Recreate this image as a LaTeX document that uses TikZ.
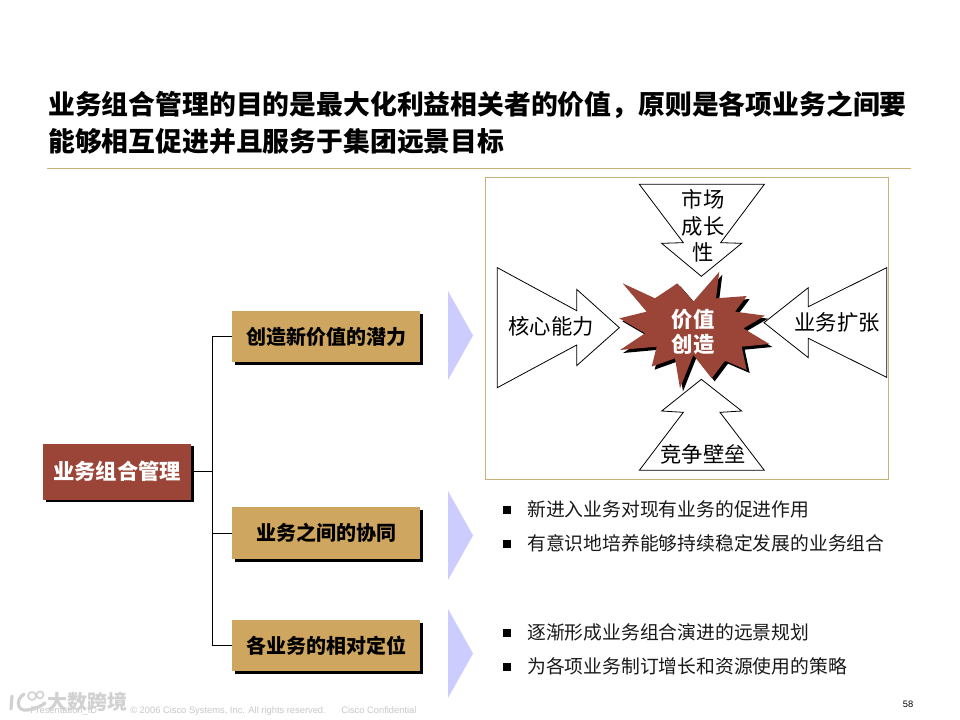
\documentclass[tikz,border=0pt]{standalone}
\usepackage{fontspec}
\usetikzlibrary{shadows}
\setmainfont{Noto Sans CJK SC}
\newfontfamily\latinf{Liberation Sans}
\definecolor{brownc}{HTML}{9B4538}
\definecolor{goldc}{HTML}{CFA65F}
\definecolor{lavc}{HTML}{CCCCFF}
\definecolor{rulec}{HTML}{C9B27A}
\definecolor{footc}{HTML}{C8C8C8}
\tikzset{
  hardshadow/.style={general shadow={shadow xshift=2.2pt,shadow yshift=-2.2pt,fill=black}},
  rootbox/.style={fill=brownc,text=white,font=\fontsize{16}{18}\selectfont\bfseries,minimum width=111pt,minimum height=42pt,inner sep=0pt,hardshadow},
  goldbox/.style={fill=goldc,text=black,font=\fontsize{15}{18}\selectfont\bfseries,minimum width=141pt,minimum height=38.5pt,inner sep=0pt,hardshadow},
  chev/.style={fill=lavc,draw=none},
  link/.style={draw=black,line width=0.75pt},
  blockarrow/.style={draw=black,line width=0.6pt,fill=white,line join=miter},
  arrowlabel/.style={font=\fontsize{16}{18}\selectfont,text=black,inner sep=0pt},
  itemtext/.style={anchor=west,font=\fontsize{14.1}{17}\selectfont,text=black!90,inner sep=0pt},
  itemmark/.style={fill=black,minimum size=5.5pt,inner sep=0pt},
  titletext/.style={anchor=west,font=\fontsize{20.12}{24}\selectfont\bfseries,text=black,inner sep=0pt},
  foot/.style={anchor=base west,font=\latinf\fontsize{7}{8}\selectfont,text=footc,inner sep=0pt},
}
\begin{document}
\begin{tikzpicture}[x=0.75pt,y=-0.75pt]
\useasboundingbox (0,0) rectangle (960,720);
\fill[white] (0,0) rectangle (960,720);

% title
\node[titletext] (t1) at (48,105) {业务组合管理的目的是最大化利益相关者的价值，原则是各项业务之间要};
\node[titletext] (t2) at (48,141) {能够相互促进并且服务于集团远景目标};
\draw[rulec,line width=0.75pt] (47,168.5) -- (911,168.5);

% frame
\draw[rulec,line width=0.7pt] (485.5,177) rectangle (888,479);

% boxes
\node[rootbox] (root) at (117,471.5) {业务组合管理};
\node[goldbox] (box1) at (326,336.5) {创造新价值的潜力};
\node[goldbox] (box2) at (326,533) {业务之间的协同};
\node[goldbox] (box3) at (326,645.5) {各业务的相对定位};

% connectors
\coordinate (spine) at (212,471.5);
\draw[link] (root.east) -- (spine);
\draw[link] (box1.west) -| (spine);
\draw[link] (box2.west) -| (spine);
\draw[link] (box3.west) -| (spine);

% chevrons
\fill[chev] (448,291) -- (473,335.5) -- (448,380) -- cycle;
\fill[chev] (448,491) -- (473,535.5) -- (448,580) -- cycle;
\fill[chev] (448,609) -- (473,653.5) -- (448,698) -- cycle;

% block arrows (zoom coords -> page)
\begin{scope}[shift={(480,170)},x=0.25pt,y=-0.25pt]
\draw[blockarrow] (478,43) -- (853,43) -- (722,218) -- (785,220) -- (664,319) -- (545,220) -- (610,218) -- cycle;
\draw[blockarrow] (52,293) -- (290,422) -- (290,358) -- (418,473) -- (290,587) -- (290,525) -- (52,653) -- cycle;
\draw[blockarrow] (1220,293) -- (985,410) -- (985,353) -- (852,458) -- (985,563) -- (985,505) -- (1220,622) -- cycle;
\draw[blockarrow] (478,901) -- (853,901) -- (720,727) -- (785,723) -- (664,628) -- (545,723) -- (610,727) -- cycle;
\def\starpath{(428,340) -- (525,385) -- (592,340) -- (640,395) -- (718,305) -- (708,385) -- (800,378) -- (765,425) -- (855,437) -- (790,475) -- (868,522) -- (785,530) -- (800,600) -- (735,572) -- (695,625) -- (640,555) -- (600,655) -- (585,565) -- (515,590) -- (530,530) -- (420,540) -- (495,490) -- (418,445) -- (500,425) -- cycle}
\fill[black,shift={(9,9)}] \starpath;
\fill[brownc] \starpath;
\end{scope}

% arrow labels
\node[arrowlabel] (a1) at (703,199) {市场};
\node[arrowlabel] (a2) at (703,226) {成长};
\node[arrowlabel] (a3) at (703,252) {性};
\node[arrowlabel] (a4) at (551,326) {核心能力};
\node[arrowlabel] (a5) at (837,322) {业务扩张};
\node[arrowlabel] (a6) at (703,454) {竞争壁垒};
\node[arrowlabel,text=white,font=\fontsize{16}{18}\selectfont\bfseries] (s1) at (693,319) {价值};
\node[arrowlabel,text=white,font=\fontsize{16}{18}\selectfont\bfseries] (s2) at (693,344) {创造};

% bullets
\node[itemmark] (m1) at (507,510) {};
\node[itemtext] (i1) at (527,509) {新进入业务对现有业务的促进作用};
\node[itemmark] (m2) at (507,544) {};
\node[itemtext] (i2) at (527,543) {有意识地培养能够持续稳定发展的业务组合};
\node[itemmark] (m3) at (507,633) {};
\node[itemtext] (i3) at (527,632) {逐渐形成业务组合演进的远景规划};
\node[itemmark] (m4) at (507,667) {};
\node[itemtext] (i4) at (527,666) {为各项业务制订增长和资源使用的策略};

% footer
\node[foot] (f1) at (30,713) {Presentation\_ID};
\node[foot] (f2) at (130,713) {© 2006 Cisco Systems, Inc. All rights reserved.};
\node[foot] (f3) at (341,713) {Cisco Confidential};
\node[anchor=center,font=\latinf\fontsize{7}{8}\selectfont,text=black,inner sep=0pt] (pg) at (908,704) {58};

% watermark
\node[anchor=west,inner sep=0pt,font=\fontsize{15}{18}\selectfont\bfseries,text=black!18] (wm) at (47,702) {大数跨境};
\draw[black!18,line width=2.4pt,line cap=round] (12,696) -- (11,709);
\draw[black!18,line width=2.4pt,line cap=round] (24,694) .. controls (15,700) and (17,712) .. (28,710) .. controls (36,708) and (42,706) .. (45,703);
\draw[black!18,line width=1.2pt] (32,696) circle (4) (40,695) circle (3.5);
\end{tikzpicture}
\end{document}
